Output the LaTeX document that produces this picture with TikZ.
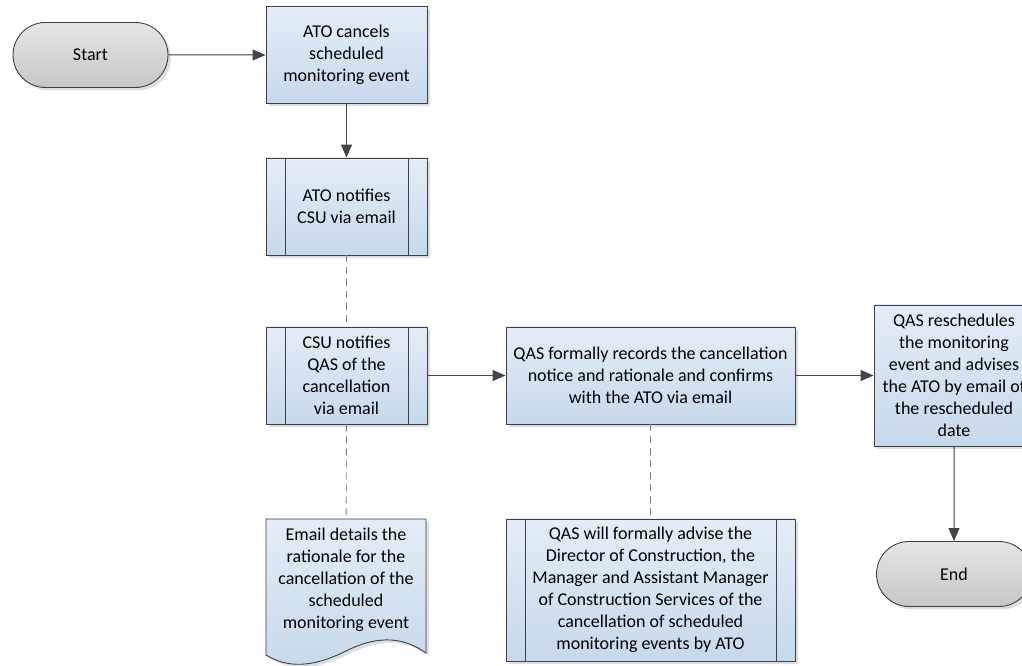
\documentclass[tikz,border=0pt]{standalone}
\usepackage{fontspec}
\setmainfont{Carlito}
\usetikzlibrary{positioning,arrows.meta,shapes.misc,shadows,backgrounds}
\definecolor{cBoxTop}{HTML}{E4EDF7}
\definecolor{cBoxBot}{HTML}{C6D9EB}
\definecolor{cTermTop}{HTML}{E6E6E6}
\definecolor{cTermBot}{HTML}{C6C6C6}
\definecolor{cLine}{HTML}{404040}
\definecolor{cConn}{HTML}{454545}
\definecolor{cDash}{HTML}{808080}
\tikzset{
  base/.style={draw=cLine,line width=0.9pt,align=center,font=\fontsize{18}{22}\selectfont,inner sep=3pt,
    drop shadow={shadow xshift=3pt,shadow yshift=-3pt,fill=black!13,opacity=1}},
  proc/.style={base,rectangle,top color=cBoxTop,bottom color=cBoxBot,minimum width=161pt,minimum height=97pt},
  sub/.style={proc,path picture={
    \draw[draw=cLine,line width=0.9pt]
      ([xshift=19pt]path picture bounding box.north west) -- ([xshift=19pt]path picture bounding box.south west)
      ([xshift=-19pt]path picture bounding box.north east) -- ([xshift=-19pt]path picture bounding box.south east);}},
  term/.style={base,rounded rectangle,top color=cTermTop,bottom color=cTermBot,minimum width=161pt,minimum height=65pt},
  doctext/.style={align=center,font=\fontsize{18}{22}\selectfont,minimum width=160pt,minimum height=122pt},
  arr/.style={-{Triangle[length=13pt,width=11pt]},line width=1pt,draw=cConn,fill=cConn},
  darr/.style={line width=0.9pt,draw=cDash,dash pattern=on 7pt off 5pt}}

\begin{document}
\begin{tikzpicture}[x=1pt,y=1pt]
\useasboundingbox (0,0) rectangle (1022,666);
% main line
\node[term] (start) at (90.5,611) {Start};
\node[proc] (cancel) at (346.5,611) {ATO cancels\\ scheduled\\ monitoring event};
\node[sub] (notify) at (346.5,459.5) {ATO notifies\\ CSU via email};
\node[sub] (csu) at (346.5,290.5) {CSU notifies\\ QAS of the\\ cancellation\\ via email};
\node[proc,minimum width=289pt] (record) at (650.5,290.5) {QAS formally records the cancellation\\ notice and rationale and confirms\\ with the ATO via email};
\node[proc,minimum width=160pt,minimum height=141pt] (resched) at (954,290.5) {QAS reschedules\\ the monitoring\\ event and advises\\ the ATO by email of\\ the rescheduled\\ date};
\node[term] (end) at (954,92) {End};
% notes
\node[sub,minimum width=289pt,minimum height=142pt] (advise) at (650.5,76) {QAS will formally advise the\\ Director of Construction, the\\ Manager and Assistant Manager\\ of Construction Services of the\\ cancellation of scheduled\\ monitoring events by ATO};
\node[doctext] (mail) at (346,86) {Email details the\\ rationale for the\\ cancellation of the\\ scheduled\\ monitoring event};
\begin{scope}[on background layer]
\shade[draw=cLine,line width=0.9pt,top color=cBoxTop,bottom color=cBoxBot,
  drop shadow={shadow xshift=3pt,shadow yshift=-3pt,fill=black!13,opacity=1}]
  (266,147) -- (426,147) -- (426,13)
  .. controls (405,28) and (380,32) .. (346,15)
  .. controls (312,-2) and (287,-2) .. (266,11) -- cycle;
\end{scope}
\draw[arr] (start) -- (cancel);
\draw[arr] (cancel) -- (notify);
\draw[darr] (notify) -- (csu);
\draw[arr] (csu) -- (record);
\draw[arr] (record) -- (resched);
\draw[arr] (resched) -- (end);
\draw[darr] (csu) -- (mail);
\draw[darr] (record) -- (advise);
\end{tikzpicture}
\end{document}
